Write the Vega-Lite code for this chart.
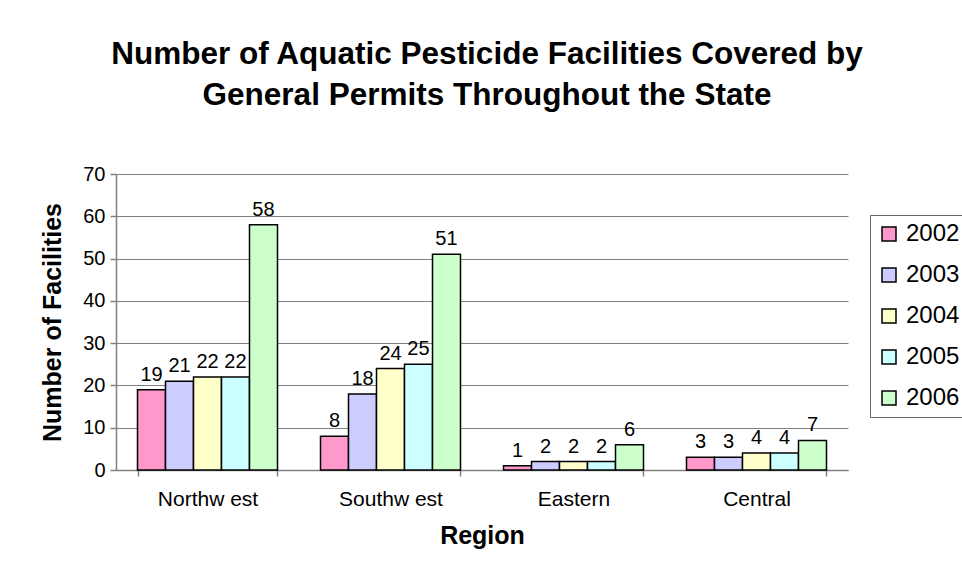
{
  "$schema": "https://vega.github.io/schema/vega-lite/v6.json",
  "width": 732,
  "height": 296,
  "autosize": {"type": "none"},
  "padding": {"left": 116, "top": 174, "right": 114, "bottom": 118},
  "background": "white",
  "title": {
    "text": ["Number of Aquatic Pesticide Facilities Covered by", "General Permits Throughout the State"],
    "font": "Liberation Sans",
    "fontSize": 31.5,
    "fontWeight": "bold",
    "color": "black",
    "anchor": "middle",
    "dx": 5,
    "offset": 53,
    "lineHeight": 41
  },
  "config": {
    "view": {"stroke": null},
    "font": "Liberation Sans"
  },
  "data": {
    "values": [
      {"region": "Northw est", "year": "2002", "value": 19},
      {"region": "Northw est", "year": "2003", "value": 21},
      {"region": "Northw est", "year": "2004", "value": 22},
      {"region": "Northw est", "year": "2005", "value": 22},
      {"region": "Northw est", "year": "2006", "value": 58},
      {"region": "Southw est", "year": "2002", "value": 8},
      {"region": "Southw est", "year": "2003", "value": 18},
      {"region": "Southw est", "year": "2004", "value": 24},
      {"region": "Southw est", "year": "2005", "value": 25},
      {"region": "Southw est", "year": "2006", "value": 51},
      {"region": "Eastern", "year": "2002", "value": 1},
      {"region": "Eastern", "year": "2003", "value": 2},
      {"region": "Eastern", "year": "2004", "value": 2},
      {"region": "Eastern", "year": "2005", "value": 2},
      {"region": "Eastern", "year": "2006", "value": 6},
      {"region": "Central", "year": "2002", "value": 3},
      {"region": "Central", "year": "2003", "value": 3},
      {"region": "Central", "year": "2004", "value": 4},
      {"region": "Central", "year": "2005", "value": 4},
      {"region": "Central", "year": "2006", "value": 7}
    ]
  },
  "encoding": {
    "x": {
      "field": "region",
      "type": "nominal",
      "sort": null,
      "scale": {"paddingInner": 0.235, "paddingOuter": 0.1175},
      "axis": {
        "title": "Region",
        "titleFontSize": 25,
        "titleFontWeight": "bold",
        "titleColor": "black",
        "titlePadding": 14,
        "labelAngle": 0,
        "labelFontSize": 21,
        "labelColor": "black",
        "labelPadding": 12,
        "domainColor": "#808080",
        "domainWidth": 1.5,
        "ticks": true,
        "tickBand": "extent",
        "tickColor": "#808080",
        "tickSize": 6,
        "tickWidth": 1.5
      }
    },
    "xOffset": {"field": "year", "type": "nominal", "scale": {"paddingInner": 0}},
    "y": {
      "field": "value",
      "type": "quantitative",
      "scale": {"domain": [0, 70]},
      "axis": {
        "title": "Number of Facilities",
        "titleFontSize": 25,
        "titleFontWeight": "bold",
        "titleColor": "black",
        "titlePadding": 17,
        "values": [0, 10, 20, 30, 40, 50, 60, 70],
        "labelFontSize": 20,
        "labelColor": "black",
        "labelPadding": 5,
        "domainColor": "#808080",
        "domainWidth": 1.5,
        "tickColor": "#808080",
        "tickSize": 6,
        "tickWidth": 1.5,
        "gridColor": "#808080",
        "gridOpacity": 1,
        "gridWidth": 1
      }
    }
  },
  "layer": [
    {
      "mark": {"type": "bar", "stroke": "black", "strokeWidth": 1.5},
      "encoding": {
        "color": {
          "field": "year",
          "type": "nominal",
          "scale": {
            "domain": ["2002", "2003", "2004", "2005", "2006"],
            "range": ["#FF99CC", "#CCCCFF", "#FFFFCC", "#CCFFFF", "#CCFFCC"]
          },
          "legend": {
            "title": null,
            "orient": "none",
            "legendX": 754,
            "legendY": 41,
            "symbolType": "square",
            "symbolSize": 196,
            "symbolStrokeColor": "black",
            "symbolStrokeWidth": 1.5,
            "labelFontSize": 24,
            "labelColor": "black",
            "labelOffset": 5,
            "rowPadding": 17,
            "padding": 7,
            "strokeColor": "#666666",
            "fillColor": "white"
          }
        }
      }
    },
    {
      "mark": {"type": "text", "baseline": "alphabetic", "dy": -9, "fontSize": 20, "color": "black"},
      "encoding": {"text": {"field": "value", "type": "quantitative"}}
    }
  ]
}
